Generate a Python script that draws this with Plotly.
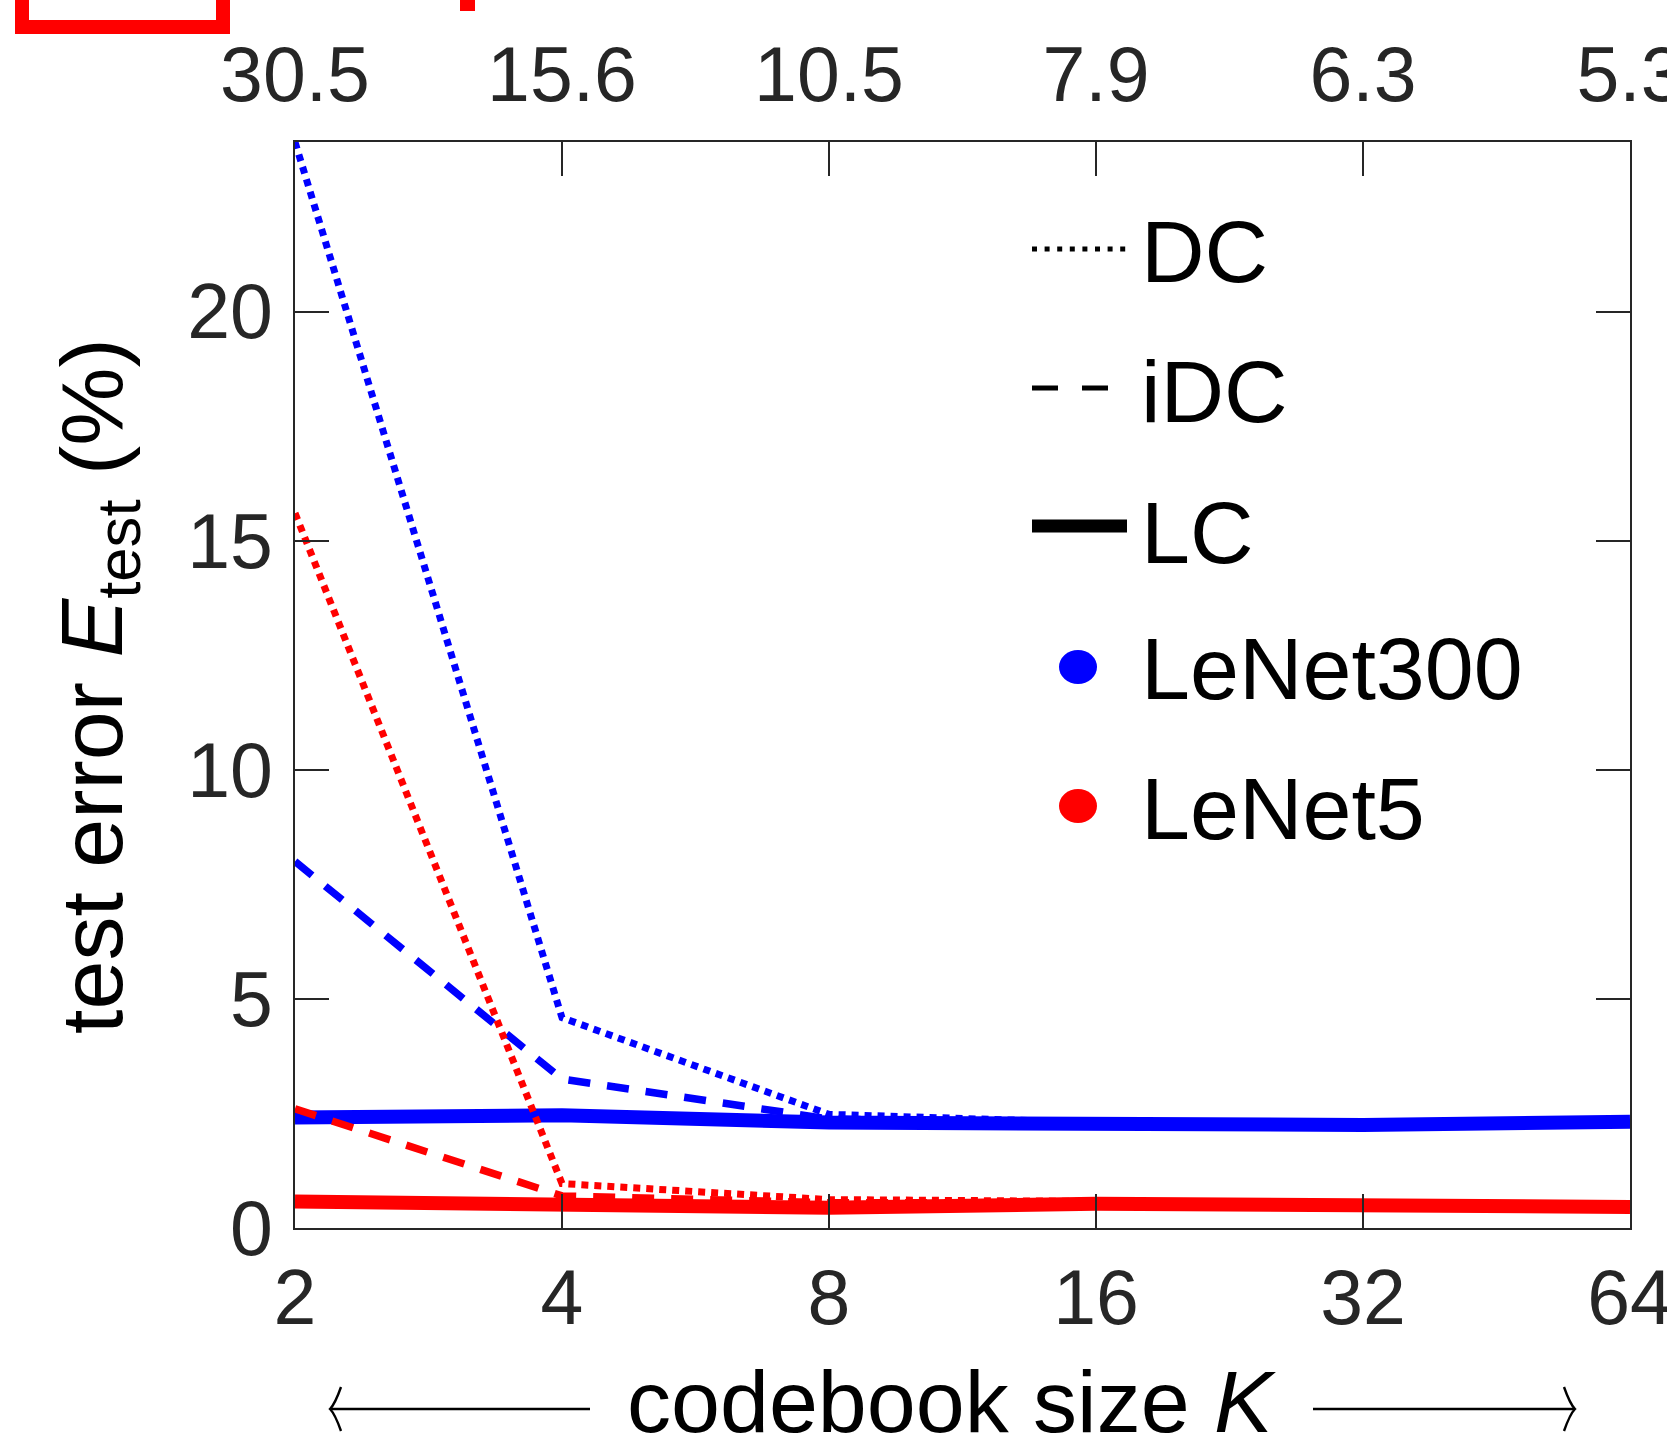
import plotly.graph_objects as go

# ---------------- data ----------------
codebook_K = [2, 4, 8, 16, 32, 64]
compression_labels = ["30.5", "15.6", "10.5", "7.9", "6.3", "5.3"]

lenet300_dc = [23.7, 4.59, 2.48, 2.30, 2.28, 2.30]
lenet300_idc = [8.0, 3.25, 2.38, 2.27, 2.26, 2.30]
lenet300_lc = [2.41, 2.46, 2.30, 2.25, 2.25, 2.32]

lenet5_dc = [15.6, 0.97, 0.62, 0.58, 0.52, 0.50]
lenet5_idc = [2.6, 0.70, 0.55, 0.55, 0.50, 0.48]
lenet5_lc = [0.58, 0.53, 0.44, 0.53, 0.49, 0.46]

y_ticks = [0, 5, 10, 15, 20]
legend_methods = ["DC", "iDC", "LC"]
legend_models = ["LeNet300", "LeNet5"]

# ---------------- layout geometry ----------------
W, H = 1667, 1435
L, R, T, B = 295, 37, 142, 207
PW, PH = W - L - R, H - T - B

def px(x):
    return (x - L) / PW

def py(y):
    return (H - B - y) / PH

BLUE = "#0000FF"
RED = "#FF0000"
DARK = "#262626"
FONT = "Liberation Sans, Arial, Helvetica, sans-serif"
DOT = "7px,6px"
DASH = "22px,17px"

fig = go.Figure()

def add_line(y, color, dash, width):
    fig.add_trace(go.Scatter(
        x=codebook_K, y=y, mode="lines",
        line=dict(color=color, dash=dash, width=width),
        showlegend=False, hoverinfo="skip", cliponaxis=True))

# LC lines first (below), then iDC, then DC
add_line(lenet300_lc, BLUE, "solid", 14)
add_line(lenet5_lc, RED, "solid", 14)
add_line(lenet300_idc, BLUE, DASH, 7.5)
add_line(lenet5_idc, RED, DASH, 7.5)
add_line(lenet300_dc, BLUE, DOT, 7)
add_line(lenet5_dc, RED, DOT, 7)

# invisible trace for the top (compression ratio) axis
fig.add_trace(go.Scatter(x=codebook_K, y=lenet300_lc, xaxis="x2", mode="markers",
                         marker=dict(opacity=0), showlegend=False, hoverinfo="skip"))

axis_common = dict(showgrid=False, zeroline=False, automargin=False)
TICKFONT = dict(size=77, color=DARK, family=FONT)

fig.update_layout(
    template="none",
    width=W, height=H, autosize=False,
    margin=dict(l=L, r=R, t=T, b=B, pad=0, autoexpand=False),
    paper_bgcolor="white", plot_bgcolor="white",
    font=dict(family=FONT, color=DARK),
    xaxis=dict(
        type="log", range=[0.30103, 1.80618], tickvals=codebook_K,
        ticktext=[str(k) for k in codebook_K],
        ticks="inside", ticklen=34, tickwidth=1.5, tickcolor=DARK,
        showline=True, linecolor=DARK, linewidth=1.5, mirror="ticks",
        tickfont=TICKFONT, ticklabeloverflow="allow",
        ticklabelstandoff=2,
        **axis_common),
    xaxis2=dict(
        type="log", range=[0.30103, 1.80618], overlaying="x", side="top",
        tickvals=codebook_K, ticktext=compression_labels, ticks="",
        showline=False, tickfont=TICKFONT, ticklabeloverflow="allow",
        ticklabelstandoff=25,
        **axis_common),
    yaxis=dict(
        range=[0, 23.7], tickvals=y_ticks, ticktext=[str(v) for v in y_ticks],
        ticks="inside", ticklen=34, tickwidth=1.5, tickcolor=DARK,
        showline=True, linecolor=DARK, linewidth=1.5, mirror="ticks",
        tickfont=TICKFONT, ticklabeloverflow="allow",
        ticklabelstandoff=5,
        **axis_common),
    showlegend=False,
)

shapes = []
ann = []

# ---- custom legend ----
leg_x0, leg_x1 = 1032, 1127
leg_text_x = 1139
leg_rows_y = {"DC": 252, "iDC": 391, "LC": 532, "LeNet300": 668, "LeNet5": 808}

shapes.append(dict(type="line", xref="paper", yref="paper",
                   x0=px(leg_x0), x1=px(leg_x1), y0=py(249), y1=py(249),
                   line=dict(color="black", width=5, dash="5px,7.6px")))
shapes.append(dict(type="line", xref="paper", yref="paper",
                   x0=px(leg_x0), x1=px(1108), y0=py(388), y1=py(388),
                   line=dict(color="black", width=5, dash="26px,24px")))
shapes.append(dict(type="line", xref="paper", yref="paper",
                   x0=px(leg_x0), x1=px(leg_x1), y0=py(526), y1=py(526),
                   line=dict(color="black", width=13)))
for name, col, cy in [("LeNet300", BLUE, 667), ("LeNet5", RED, 806)]:
    r = 19
    shapes.append(dict(type="circle", xref="paper", yref="paper",
                       x0=px(1078 - r), x1=px(1078 + r), y0=py(cy + r * 0.9), y1=py(cy - r * 0.9),
                       fillcolor=col, line=dict(width=0)))

for name in legend_methods + legend_models:
    ann.append(dict(text=name, xref="paper", yref="paper", x=px(leg_text_x),
                    y=py(leg_rows_y[name]), xanchor="left", yanchor="middle",
                    showarrow=False, font=dict(size=88, color="black", family=FONT)))

# ---- axis titles ----
ann.append(dict(text="codebook size <i>K</i>", xref="paper", yref="paper",
                x=px(951), y=py(1401), xanchor="center", yanchor="middle",
                showarrow=False, font=dict(size=88, color="black", family=FONT)))
ann.append(dict(text="test error <i>E</i><sub>test</sub> (%)", xref="paper", yref="paper",
                x=px(97), y=py(686), xanchor="center", yanchor="middle", textangle=-90,
                showarrow=False, font=dict(size=88, color="black", family=FONT)))

# long arrows around the x title (LaTeX-like curved heads)
AY = 1409

def pth(points):
    return " ".join(f"{cmd}{px(x):.5f},{py(y):.5f}" if cmd else f"{px(x):.5f},{py(y):.5f}"
                    for cmd, x, y in points)

for tip, tail, sgn in [(330, 590, 1), (1575, 1313, -1)]:
    shapes.append(dict(type="line", xref="paper", yref="paper",
                       x0=px(tip + sgn * 1), x1=px(tail), y0=py(AY), y1=py(AY),
                       line=dict(color="black", width=2.4)))
    bx = tip + sgn * 11
    path = pth([("M", bx, AY - 22), ("Q", tip + sgn * 5, AY - 5), ("", tip, AY),
                ("Q", tip + sgn * 5, AY + 5), ("", bx, AY + 22)])
    shapes.append(dict(type="path", xref="paper", yref="paper", path=path,
                       line=dict(color="black", width=2.4)))

# ---- red fragments at the top (cut-off neighbouring panel) ----
shapes.append(dict(type="rect", xref="paper", yref="paper",
                   x0=px(22), x1=px(223), y0=py(27), y1=py(-60),
                   line=dict(color=RED, width=14), fillcolor="rgba(0,0,0,0)"))
shapes.append(dict(type="rect", xref="paper", yref="paper",
                   x0=px(460), x1=px(475), y0=py(11), y1=py(-20),
                   line=dict(width=0), fillcolor=RED))

fig.update_layout(shapes=shapes, annotations=ann)

fig.write_html("out.html", config={"displayModeBar": False},
               post_script="document.body.style.margin='0';document.body.style.overflow='hidden';")
